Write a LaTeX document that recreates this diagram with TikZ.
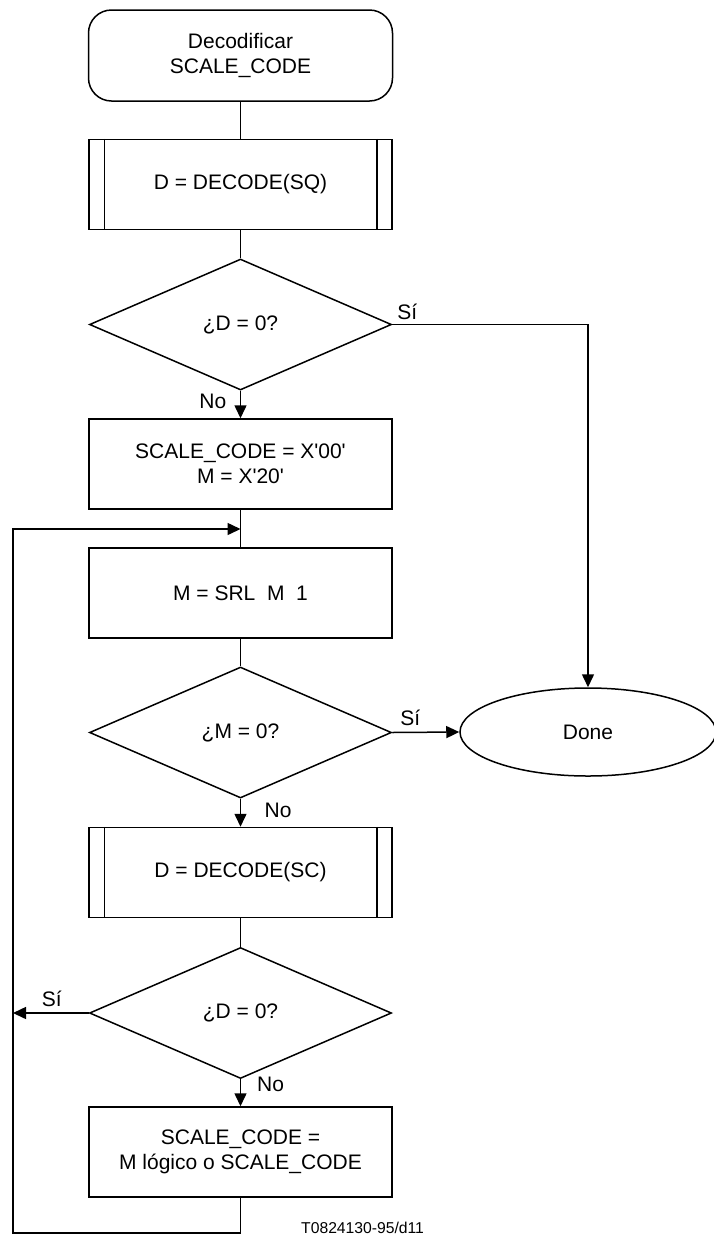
\documentclass[tikz,border=0pt]{standalone}
\usepackage{fontspec}
\setmainfont{Liberation Sans}
\usetikzlibrary{shapes.geometric,arrows.meta}

\tikzset{
  base/.style={draw, line width=1.5pt, inner sep=0pt, align=center,
    font=\fontsize{21pt}{25.5pt}\selectfont},
  termbox/.style={base, rectangle, rounded corners=23pt,
    minimum width=304pt, minimum height=91pt},
  procbox/.style={base, rectangle, minimum width=303pt, minimum height=90pt},
  subbox/.style={procbox},
  decision/.style={base, diamond, minimum width=302pt, minimum height=131pt},
  endoval/.style={base, ellipse, minimum width=256pt, minimum height=88pt},
  lbl/.style={inner sep=0pt, font=\fontsize{21pt}{25pt}\selectfont},
  conn/.style={line width=1.5pt},
  arr/.style={conn, -{Triangle[length=13pt, width=12pt]}},
}
\newcommand{\sq}{\textquotesingle}

\begin{document}
\begin{tikzpicture}[x=1pt, y=-1pt]
  \useasboundingbox (0,0) rectangle (713,1235);

  % flow nodes
  \node[termbox]  (start) at (240.5,55.5)  {Decodificar\\SCALE\_CODE};
  \node[subbox]   (sq)    at (240.5,184.5) {D = DECODE(SQ)};
  \node[decision] (d1)    at (240.5,324.5) {¿D = 0?};
  \node[procbox]  (init)  at (240.5,464)   {SCALE\_CODE = X\sq00\sq\\M = X\sq20\sq};
  \node[procbox]  (srl)   at (240.5,593)   {M = SRL~~M~~1};
  \node[decision] (d2)    at (240.5,732.5) {¿M = 0?};
  \node[endoval]  (done)  at (588,732)     {Done};
  \node[subbox]   (sc)    at (240.5,872.5) {D = DECODE(SC)};
  \node[decision] (d3)    at (240.5,1013)  {¿D = 0?};
  \node[procbox]  (upd)   at (240.5,1152)  {SCALE\_CODE =\\M lógico o SCALE\_CODE};

  % inner bars of the subroutine boxes
  \foreach \n in {sq,sc} {
    \draw[conn] ([xshift=16pt]\n.north west) -- ([xshift=16pt]\n.south west);
    \draw[conn] ([xshift=-16pt]\n.north east) -- ([xshift=-16pt]\n.south east);
  }

  % loop coordinates
  \coordinate (loopL) at (13,529);
  \coordinate (join)  at (240.5,529);

  % connectors
  \draw[conn] (start) -- (sq);
  \draw[conn] (sq) -- (d1);
  \draw[arr]  (d1) -- (init);
  \draw[arr]  (d1.east) -| (done.north);
  \draw[conn] (init) -- (srl);
  \draw[conn] (srl) -- (d2);
  \draw[arr]  (d2.east) -- (done.west);
  \draw[arr]  (d2) -- (sc);
  \draw[conn] (sc) -- (d3);
  \draw[arr]  (d3) -- (upd);
  \draw[arr]  (d3.west) -- (d3.west -| loopL);
  \draw[arr]  (upd.south) -- ++(0,35) -| (loopL) -- (join);

  % branch labels
  \node[lbl, anchor=south west] (s1) at ([xshift=5pt,yshift=5pt]d1.east) {Sí};
  \node[lbl, anchor=north east] (n1) at ([xshift=-14pt,yshift=-3pt]d1.south) {No};
  \node[lbl, anchor=south west] (s2) at ([xshift=8pt,yshift=7pt]d2.east) {Sí};
  \node[lbl, anchor=north west] (n2) at ([xshift=24pt,yshift=-4pt]d2.south) {No};
  \node[lbl, anchor=south west] (s3) at ([xshift=-47pt,yshift=6pt]d3.west) {Sí};
  \node[lbl, anchor=north west] (n3) at ([xshift=16.5pt,yshift=2pt]d3.south) {No};

  % figure reference
  \node[inner sep=0pt, anchor=base west, font=\fontsize{15.7pt}{18pt}\selectfont]
    (ref) at (301,1233) {T0824130-95/d11};
\end{tikzpicture}
\end{document}
